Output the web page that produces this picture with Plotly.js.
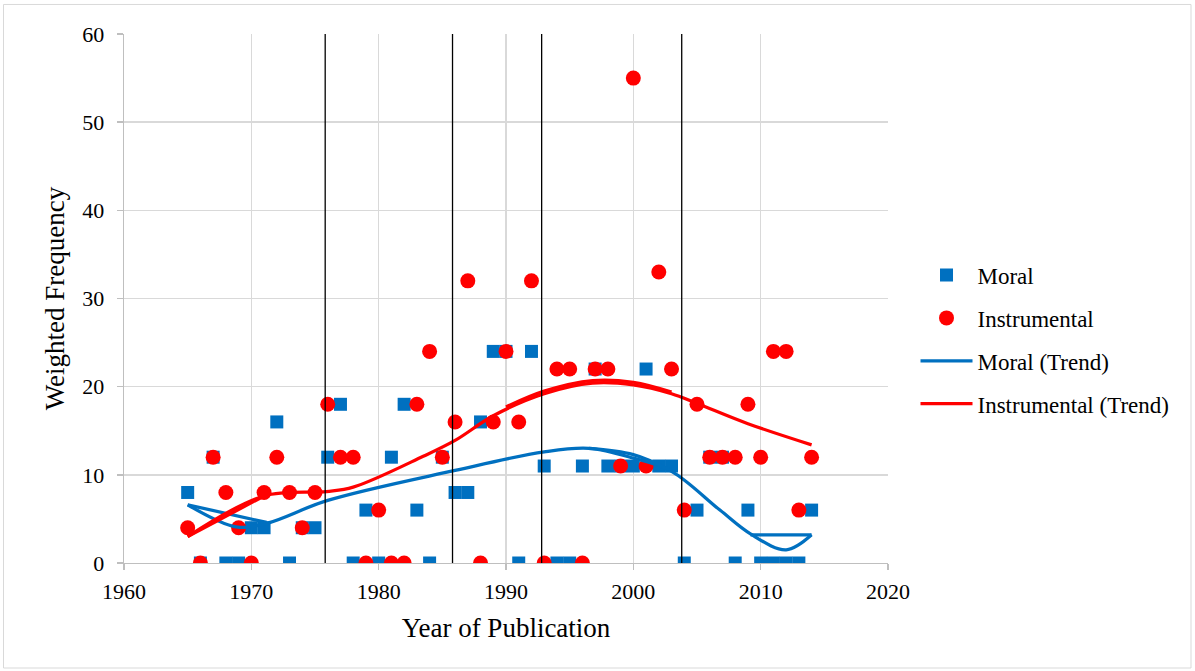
<!DOCTYPE html>
<html>
<head>
<meta charset="utf-8">
<script src="https://cdn.plot.ly/plotly-3.0.1.min.js"></script>
<style>
  html, body { margin: 0; padding: 0; background: #ffffff; }
  #chart { width: 1195px; height: 671px; }
</style>
</head>
<body>
<div id="chart"></div>
<script>
// Publication years, one observation per year for each series
const years = [
  1965, 1966, 1967, 1968, 1969, 1970, 1971, 1972, 1973, 1974,
  1975, 1976, 1977, 1978, 1979, 1980, 1981, 1982, 1983, 1984,
  1985, 1986, 1987, 1988, 1989, 1990, 1991, 1992, 1993, 1994,
  1995, 1996, 1997, 1998, 1999, 2000, 2001, 2002, 2003, 2004,
  2005, 2006, 2007, 2008, 2009, 2010, 2011, 2012, 2013, 2014
];

// Weighted frequency of moral arguments
const moral = [
  8, 0, 12, 0, 0, 4, 4, 16, 0, 4,
  4, 12, 18, 0, 6, 0, 12, 18, 6, 0,
  12, 8, 8, 16, 24, 24, 0, 24, 11, 0,
  0, 11, 22, 11, 11, 11, 22, 11, 11, 0,
  6, 12, 12, 0, 6, 0, 0, 0, 0, 6
];

// Weighted frequency of instrumental arguments
const instrumental = [
  4, 0, 12, 8, 4, 0, 8, 12, 8, 4,
  8, 18, 12, 12, 0, 6, 0, 0, 18, 24,
  12, 16, 32, 0, 16, 24, 16, 32, 0, 22,
  22, 0, 22, 22, 11, 55, 11, 33, 22, 6,
  18, 12, 12, 12, 18, 12, 24, 24, 6, 12
];

// Smoothed trend paths (null separates the overlapping passes)
const moralTrendX = [1965, 1968.8, 1971.2, 1976, 1986, 1993, 1996.5, 2000, 2003, 2006.8, 2009.2, 2012, 2014,
                     null, 1965, 1971.2,
                     null, 1996.5, 2000, 2002.8,
                     null, 2009.2, 2014];
const moralTrendY = [6.6, 4.1, 4.5, 7.1, 10.5, 12.6, 13.0, 11.9, 10.4, 6.0, 3.3, 1.5, 3.2,
                     null, 6.6, 4.6,
                     null, 13.0, 12.3, 10.6,
                     null, 3.2, 3.2];

const instrTrendX = [1965, 1971, 1975.9, 1978, 1983.5, 1986, 1989, 1993, 1996.8, 2000, 2003, 2005, 2009, 2014,
                     null, 1965, 1971,
                     null, 1990, 1993, 1996.8, 2000, 2003];
const instrTrendY = [3.0, 7.6, 8.1, 8.6, 12.1, 13.9, 16.7, 19.2, 20.4, 20.2, 19.2, 18.1, 15.8, 13.4,
                     null, 3.0, 7.6,
                     null, 17.7, 19.5, 20.7, 20.5, 19.4];

// Period boundaries marked with vertical rules
const periodBreaks = [1975.8, 1985.8, 1992.8, 2003.8];

const FONT = 'Liberation Serif, Times New Roman, serif';
const BLUE = '#0070C0';
const RED = '#FF0000';

const traces = [
  {
    x: years, y: moral, name: 'Moral', type: 'scatter', mode: 'markers',
    legendgroup: 'g1',
    marker: { symbol: 'square', size: 13, color: BLUE }
  },
  {
    x: years, y: instrumental, name: 'Instrumental', type: 'scatter', mode: 'markers',
    legendgroup: 'g2',
    marker: { symbol: 'circle', size: 15, color: RED }
  },
  {
    x: moralTrendX, y: moralTrendY, name: 'Moral (Trend)', type: 'scatter', mode: 'lines',
    legendgroup: 'g3', connectgaps: false,
    line: { color: BLUE, width: 3.25, shape: 'spline', smoothing: 1 }
  },
  {
    x: instrTrendX, y: instrTrendY, name: 'Instrumental (Trend)', type: 'scatter', mode: 'lines',
    legendgroup: 'g4', connectgaps: false,
    line: { color: RED, width: 3.25, shape: 'spline', smoothing: 1 }
  }
];

const shapes = periodBreaks.map(b => ({
  type: 'line', xref: 'x', yref: 'y', x0: b, x1: b, y0: 0, y1: 60,
  line: { color: '#000000', width: 1.3 }
}));

// Outer chart frame
shapes.push({
  type: 'rect', xref: 'paper', yref: 'paper',
  x0: -0.1577, x1: 1.3966, y0: -0.1985, y1: 1.0558,
  line: { color: '#d9d9d9', width: 1 }, layer: 'below'
});

const axisCommon = {
  showgrid: true, gridcolor: '#d9d9d9', gridwidth: 1.4,
  showline: true, linecolor: '#bfbfbf', linewidth: 1.4,
  ticks: 'outside', ticklen: 6, tickcolor: '#bfbfbf', tickwidth: 1.4,
  zeroline: false, fixedrange: true,
  tickfont: { family: FONT, size: 22, color: '#000000' }
};

const layout = {
  width: 1195, height: 671,
  margin: { l: 124, r: 307, t: 34, b: 108, autoexpand: false },
  paper_bgcolor: '#ffffff', plot_bgcolor: '#ffffff',
  font: { family: FONT, color: '#000000' },
  showlegend: true,
  legend: {
    x: 1.036, y: 0.585, xanchor: 'left', yanchor: 'top',
    font: { family: FONT, size: 23, color: '#000000' },
    itemwidth: 52, tracegroupgap: 10,
    bgcolor: 'rgba(0,0,0,0)', borderwidth: 0
  },
  xaxis: Object.assign({}, axisCommon, {
    range: [1960, 2020], tick0: 1960, dtick: 10,
    ticklabelstandoff: 2,
    title: { text: 'Year of Publication', font: { family: FONT, size: 27, color: '#000000' }, standoff: 15 }
  }),
  yaxis: Object.assign({}, axisCommon, {
    range: [0, 60], tick0: 0, dtick: 10,
    ticklabelstandoff: 8,
    title: { text: 'Weighted Frequency', font: { family: FONT, size: 27, color: '#000000' }, standoff: 9 }
  }),
  shapes: shapes
};

Plotly.newPlot('chart', traces, layout, { displayModeBar: false, staticPlot: true });
</script>
</body>
</html>
